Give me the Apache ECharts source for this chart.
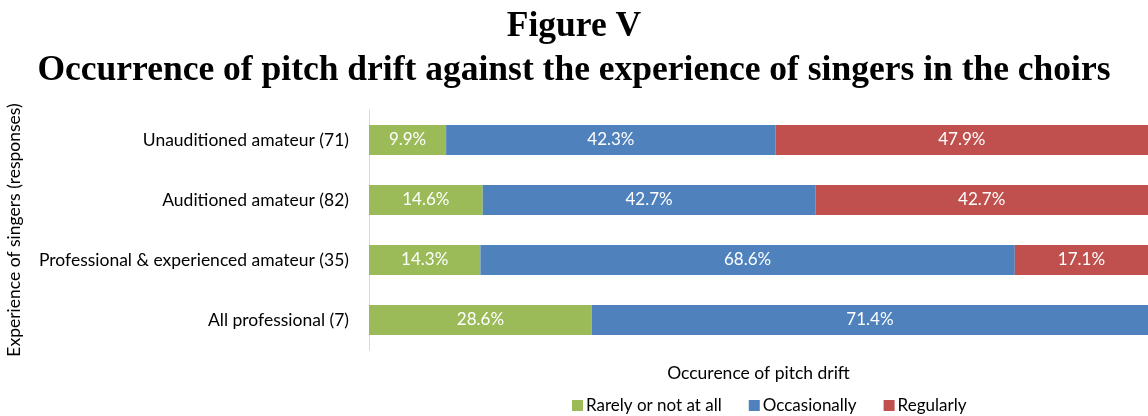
<!DOCTYPE html>
<html><head><meta charset="utf-8">
<script src="https://cdn.jsdelivr.net/npm/echarts@6/dist/echarts.min.js"></script>
<style>html,body{margin:0;padding:0;background:#fff}#c{width:1148px;height:416px}</style>
</head><body><div id="c"></div>
<script>
const categories = ["Unauditioned amateur (71)", "Auditioned amateur (82)", "Professional & experienced amateur (35)", "All professional (7)"];
const rarely = [9.9, 14.6, 14.3, 28.6];
const occasionally = [42.3, 42.7, 68.6, 71.4];
const regularly = [47.9, 42.7, 17.1, 0];
const seriesNames = ["Rarely or not at all", "Occasionally", "Regularly"];
const colors = ["#9BBB59", "#4F81BD", "#C0504D"];

const chart = echarts.init(document.getElementById('c'));
const lbl = {show: true, position: 'inside', color: '#fff', fontSize: 17, fontFamily: 'Lato',
  formatter: p => p.value > 0 ? p.value.toFixed(1) + '%' : ''};
const tStyle = {fontFamily: 'Liberation Serif', fontWeight: 'bold', fontSize: 35.5, color: '#000'};
chart.setOption({
  animation: false,
  title: [
    {text: 'Figure V', left: 'center', top: 4, textStyle: tStyle},
    {text: 'Occurrence of pitch drift against the experience of singers in the choirs', left: 'center', top: 48, textStyle: tStyle}
  ],
  grid: {left: 369, right: 0, top: 110, bottom: 66, containLabel: false, outerBoundsMode: 'none'},
  legend: {top: 392, left: 567, itemWidth: 11, itemHeight: 11, itemGap: 27, icon: 'rect',
    textStyle: {fontFamily: 'Lato', fontSize: 17, color: '#000', padding: [0, 0, 0, -2]}, data: seriesNames},
  xAxis: {type: 'value', min: 0, max: 100, axisLine: {show: false}, axisTick: {show: false}, axisLabel: {show: false}, splitLine: {show: false},
    name: 'Occurence of pitch drift', nameLocation: 'middle', nameGap: 14, nameTextStyle: {fontFamily: 'Lato', fontSize: 17.5, color: '#000'}},
  yAxis: {type: 'category', data: categories, inverse: true,
    axisLine: {lineStyle: {color: '#D9D9D9'}}, axisTick: {length: 7, lineStyle: {color: '#D9D9D9'}},
    axisLabel: {fontFamily: 'Lato', fontSize: 17.5, color: '#000', margin: 20},
    name: 'Experience of singers (responses)', nameLocation: 'middle', nameGap: 346, nameRotate: 90,
    nameTextStyle: {fontFamily: 'Lato', fontSize: 17.5, color: '#000'}},
  series: [
    {name: seriesNames[0], type: 'bar', stack: 's', data: rarely, barWidth: 30, itemStyle: {color: colors[0]}, label: lbl},
    {name: seriesNames[1], type: 'bar', stack: 's', data: occasionally, barWidth: 30, itemStyle: {color: colors[1]}, label: lbl},
    {name: seriesNames[2], type: 'bar', stack: 's', data: regularly, barWidth: 30, itemStyle: {color: colors[2]}, label: lbl}
  ]
});
</script></body></html>
